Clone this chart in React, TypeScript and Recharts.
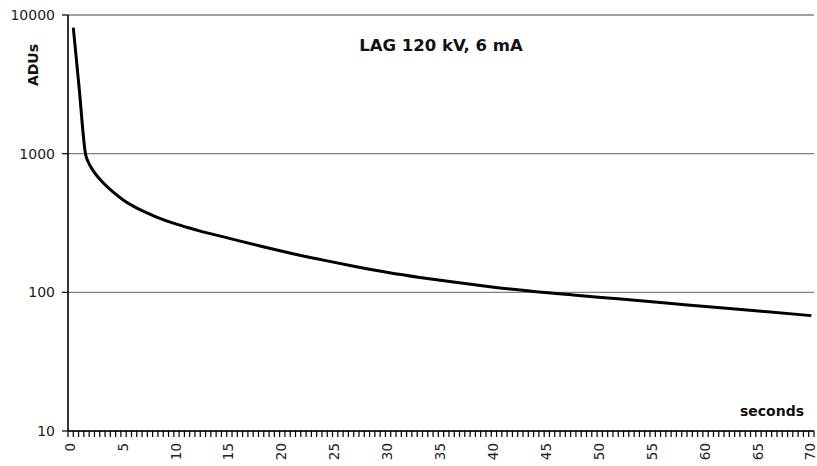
import React from "react";
import { LineChart, Line, XAxis, YAxis, CartesianGrid } from "recharts";

const times = [0.25, 0.8, 1.4, 1.7, 2, 2.5, 3, 4, 5, 6, 7, 8, 10, 12, 15, 18, 21, 24, 27, 30, 33, 36, 40, 44, 48, 52, 56, 60, 65, 70];
const adus = [8100, 3000, 1000, 860, 780, 690, 625, 530, 462, 415, 380, 352, 310, 280, 245, 215, 190, 170, 153, 139, 128, 119, 109, 101, 95, 89.4, 84.1, 79.1, 73.3, 67.9];
const yTicks = [10, 100, 1000, 10000];
const xLabelStep = 5;
const xMinorStep = 0.5;
const xMax = 70;

const data = times.map((t, i) => ({ t, v: adus[i] }));
const xTicks: number[] = [];
for (let i = 0; i <= (xMax / xMinorStep) + 1; i++) xTicks.push(-xMinorStep / 2 + i * xMinorStep);

const W = 817;
const H = 466;
const plotLeft = 68;
const plotRight = 814;
const halfCat = ((plotRight - plotLeft) / (xMax + xMinorStep)) * (xMinorStep / 2);

const XTick = (props: any) => {
  const { x, y, payload } = props;
  const idx = Math.round((payload.value + xMinorStep / 2) / xMinorStep);
  const val = idx * xMinorStep;
  if (Math.abs(val % xLabelStep) > 1e-6 || val > xMax) return <g />;
  const cx = x + halfCat - 0.8;
  const ty = y + 4;
  return (
    <text
      x={cx}
      y={ty}
      transform={`rotate(-90 ${cx} ${ty})`}
      textAnchor="end"
      dy="0.36em"
      fontFamily="DejaVu Sans"
      fontSize={13.5}
      fill="#222"
    >
      {val}
    </text>
  );
};

export default function App() {
  return (
    <div style={{ position: "absolute", left: 0, top: 0, width: W, height: H, background: "#fff" }}>
      <LineChart width={W} height={H} data={data} margin={{ top: 15, right: W - plotRight, bottom: 0, left: 0 }}>
        <CartesianGrid vertical={false} stroke="#808080" strokeWidth={1.3} />
        <XAxis
          type="number"
          dataKey="t"
          domain={[-xMinorStep / 2, xMax + xMinorStep / 2]}
          ticks={xTicks}
          interval={0}
          tickSize={6}
          height={35}
          allowDataOverflow
          axisLine={{ stroke: "#000", strokeWidth: 1.6 }}
          tickLine={{ stroke: "#000", strokeWidth: 1.2 }}
          tick={<XTick />}
        />
        <YAxis
          scale="log"
          domain={[10, 10000]}
          ticks={yTicks}
          interval={0}
          allowDataOverflow
          width={plotLeft}
          tickSize={6}
          tickMargin={7}
          axisLine={{ stroke: "#000", strokeWidth: 1.6 }}
          tickLine={{ stroke: "#000", strokeWidth: 1.2 }}
          tick={{ fontFamily: "DejaVu Sans", fontSize: 14, fill: "#222" }}
        />
        <Line
          type="monotone"
          dataKey="v"
          stroke="#000"
          strokeWidth={3}
          dot={false}
          isAnimationActive={false}
        />
      </LineChart>
      <svg width={W} height={H} style={{ position: "absolute", left: 0, top: 0, pointerEvents: "none" }}>
        <text x={441} y={51} textAnchor="middle" fontFamily="DejaVu Sans" fontWeight="bold" fontSize={16.5} fill="#111">
          LAG 120 kV, 6 mA
        </text>
        <text
          x={38}
          y={65}
          transform="rotate(-90 38 65)"
          textAnchor="middle"
          fontFamily="DejaVu Sans"
          fontWeight="bold"
          fontSize={14}
          fill="#111"
        >
          ADUs
        </text>
        <text x={772} y={416} textAnchor="middle" fontFamily="DejaVu Sans" fontWeight="bold" fontSize={14} fill="#111">
          seconds
        </text>
      </svg>
    </div>
  );
}
